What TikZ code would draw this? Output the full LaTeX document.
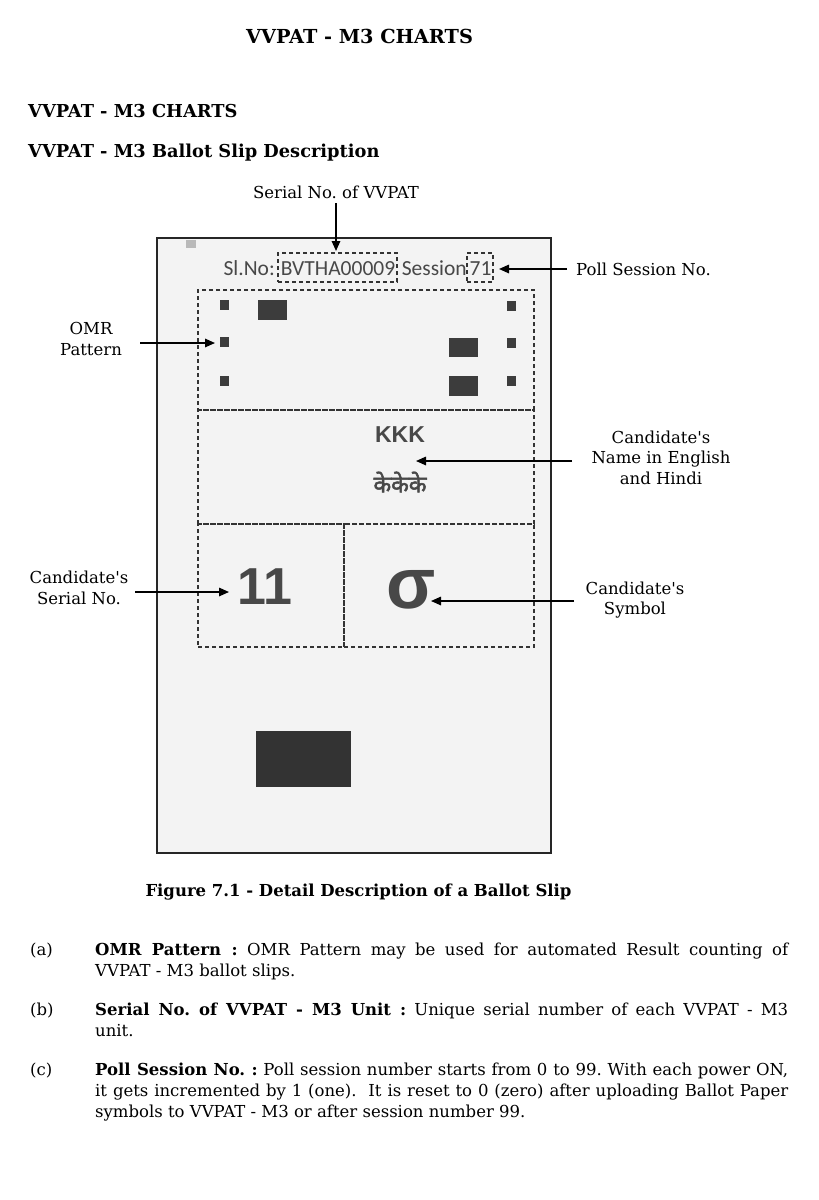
\documentclass[tikz,border=0pt]{standalone}
\usepackage{fontspec}
\setmainfont{DejaVu Serif}[Ligatures=TeXOff]
\newfontfamily\calib{Carlito}
\newfontfamily\arialf{Liberation Sans}
\newfontfamily\deva[Script=Devanagari,FakeBold=2.2]{Noto Sans}
\usetikzlibrary{arrows.meta}
\definecolor{slipbg}{HTML}{F3F3F3}
\definecolor{ink}{HTML}{484848}
\definecolor{omr}{HTML}{3C3C3C}
\frenchspacing
\begin{document}
\begin{tikzpicture}[x=1pt,y=-1pt,
  arr/.style={line width=1.6pt,-{Triangle[length=10pt,width=8.5pt]}},
  dsh/.style={draw=black!80,line width=1.1pt,dash pattern=on 4pt off 3pt,inner sep=0pt},
  lbl/.style={font=\fontsize{16.5}{20.5}\selectfont,align=center,inner sep=0pt},
  head/.style={font=\fontsize{17.8}{22}\selectfont\bfseries,inner sep=0pt},
  sliptxt/.style={font=\fontsize{21.5}{24}\selectfont\calib,text=ink,inner sep=0pt},
  sq/.style={fill=omr,draw=none},
  body/.style={font=\fontsize{16.5}{21}\selectfont,inner sep=0pt}
]
\useasboundingbox[fill=white] (0,0) rectangle (819,1200);

% headings
\node[head,font=\fontsize{19.3}{22}\selectfont\bfseries,anchor=base] (title) at (359.5,43) {VVPAT - M3 CHARTS};
\node[head,anchor=base west] (h1) at (28,117) {VVPAT - M3 CHARTS};
\node[head,anchor=base west] (h2) at (28,157) {VVPAT - M3 Ballot Slip Description};

% slip
\node[draw=black!85,line width=2pt,fill=slipbg,minimum width=394pt,minimum height=615pt,inner sep=0pt] (slip) at (354,545.5) {};
\fill[gray!55] (186,240) rectangle (196,248);

% slip header text
\node[dsh,minimum width=119pt,minimum height=29pt] (serbox) at (337.5,267.5) {};
\node[dsh,minimum width=26pt,minimum height=29pt] (sesbox) at (480,267.5) {};
\node[sliptxt,anchor=base east] (slno) at (275,275.5) {Sl.No:};
\node[sliptxt,anchor=base] (serial) at (338,275.5) {BVTHA00009};
\node[sliptxt,anchor=base east] (session) at (467,275.5) {Session};
\node[sliptxt,anchor=base] (sesno) at (480.5,275.5) {71};

% dashed regions
\node[dsh,minimum width=336pt,minimum height=120pt] (omrbox) at (366,350) {};
\node[dsh,minimum width=336pt,minimum height=114pt] (namebox) at (366,467) {};
\node[dsh,minimum width=146pt,minimum height=123pt] (numbox) at (271,585.5) {};
\node[dsh,minimum width=190pt,minimum height=123pt] (symbox) at (439,585.5) {};

% OMR marks
\node[sq,minimum width=9pt,minimum height=10pt,inner sep=0pt] (s11) at (224.5,305) {};
\node[sq,minimum width=9pt,minimum height=10pt,inner sep=0pt] (s21) at (224.5,342) {};
\node[sq,minimum width=9pt,minimum height=10pt,inner sep=0pt] (s31) at (224.5,381) {};
\node[sq,minimum width=9pt,minimum height=10pt,inner sep=0pt] (s12) at (511.5,305.5) {};
\node[sq,minimum width=9pt,minimum height=10pt,inner sep=0pt] (s22) at (511.5,342.5) {};
\node[sq,minimum width=9pt,minimum height=10pt,inner sep=0pt] (s32) at (511.5,381) {};
\node[sq,minimum width=29pt,minimum height=20pt,inner sep=0pt] (b1) at (272.5,310) {};
\node[sq,minimum width=29pt,minimum height=19pt,inner sep=0pt] (b2) at (463.5,347.5) {};
\node[sq,minimum width=29pt,minimum height=20pt,inner sep=0pt] (b3) at (463.5,386) {};

% candidate content
\node[font=\fontsize{23}{26}\selectfont\arialf\bfseries,text=ink,inner sep=0pt] (kkk) at (400,435) {KKK};
\node[font=\fontsize{23}{26}\selectfont\deva,text=ink,inner sep=0pt] (hindi) at (400,482) {केकेके};
\node[font=\fontsize{52}{56}\selectfont\arialf\bfseries,text=ink,inner sep=0pt] (num) at (265,587) {11};
\node[font=\fontsize{72}{76}\selectfont\arialf\bfseries,text=ink,inner sep=0pt] (sym) at (411,590) {σ};

% bottom block
\fill[black!80] (256,731) rectangle (351,787);

% labels
\node[lbl] (serl) at (336,192) {Serial No. of VVPAT};
\node[lbl,anchor=west] (polll) at (576,269) {Poll Session No.};
\node[lbl] (omrl) at (91,339) {OMR\\Pattern};
\node[lbl] (namel) at (661,457.5) {Candidate's\\Name in English\\and Hindi};
\node[lbl] (numl) at (79,588) {Candidate's\\Serial No.};
\node[lbl] (syml) at (635,600) {Candidate's\\Symbol};

\coordinate (serA) at (336,203);
\coordinate (serB) at (336,251);
\coordinate (pollA) at (567,269);
\coordinate (pollB) at (499,269);
\coordinate (omrA) at (140,343);
\coordinate (omrB) at (215,343);
\coordinate (nameA) at (572,461);
\coordinate (nameB) at (416,461);
\coordinate (numA) at (135,592);
\coordinate (numB) at (229,592);
\coordinate (symA) at (574,601);
\coordinate (symB) at (431,601);

\draw[arr] (serA) -- (serB);
\draw[arr] (pollA) -- (pollB);
\draw[arr] (omrA) -- (omrB);
\draw[arr] (nameA) -- (nameB);
\draw[arr] (numA) -- (numB);
\draw[arr] (symA) -- (symB);

% caption
\node[font=\fontsize{16.5}{20}\selectfont\bfseries,anchor=base,inner sep=0pt] (cap) at (358.5,896) {Figure 7.1 - Detail Description of a Ballot Slip};

% descriptions
\node[body,anchor=base west] (la) at (30,955) {(a)};
\node[body,anchor=north west,text width=693pt,align=justify] (ta) at (95,942.5)
 {\textbf{OMR Pattern :} OMR Pattern may be used for automated Result counting of\linebreak VVPAT - M3 ballot slips.};
\node[body,anchor=base west] (lb) at (30,1015) {(b)};
\node[body,anchor=north west,text width=693pt,align=justify] (tb) at (95,1002.5)
 {\textbf{Serial No. of VVPAT - M3 Unit :} Unique serial number of each VVPAT - M3\linebreak unit.};
\node[body,anchor=base west] (lc) at (30,1075) {(c)};
\node[body,anchor=north west,text width=693pt,align=justify] (tc) at (95,1062.5)
 {\textbf{Poll Session No. :} Poll session number starts from 0 to 99. With each power ON,\linebreak it gets incremented by 1 (one).\ \ It is reset to 0 (zero) after uploading Ballot Paper\linebreak symbols to VVPAT - M3 or after session number 99.};
\end{tikzpicture}
\end{document}
